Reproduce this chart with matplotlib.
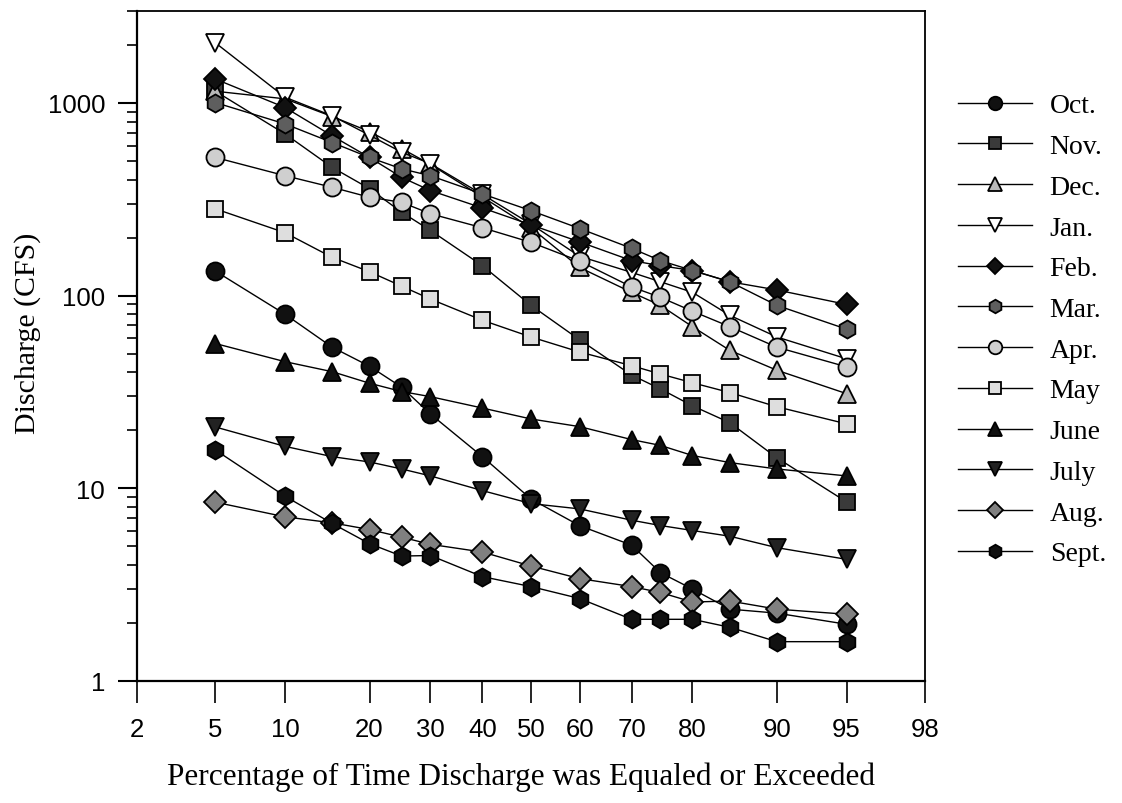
import math
import numpy as np
import matplotlib
matplotlib.use("Agg")
import matplotlib.pyplot as plt
from matplotlib.ticker import FixedLocator, LogLocator, NullFormatter, FixedFormatter

# percent of time exceeded (x) and monthly discharge in CFS (y)
PCT = [5, 10, 15, 20, 25, 30, 40, 50, 60, 70, 75, 80, 85, 90, 95]

OCT = [134, 80, 54, 43, 33.5, 24.3, 14.6, 8.8, 6.4, 5.07, 3.65, 3.0, 2.36, 2.25, 1.97]
NOV = [1150, 690, 463, 359, 271, 218, 143, 89, 59, 38.7, 32.8, 26.8, 21.9, 14.4, 8.5]
DEC = [1150, 1050, 850, 710, 580, 480, 325, 225, 140, 104, 89, 69, 52, 41, 31]
JAN = [2050, 1070, 857, 680, 555, 484, 335, 235, 160, 132, 118, 104, 79, 61, 47]
FEB = [1330, 946, 675, 521, 411, 351, 285, 233, 190, 152, 143, 135, 118, 107, 90]
MAR = [1004, 778, 623, 521, 455, 419, 337, 276, 223, 176, 152, 135, 118, 89, 67]
APR = [521, 419, 365, 324, 305, 266, 225, 189, 151, 111, 98, 83, 69, 54, 42.7]
MAY = [282, 212, 158, 133, 112, 96, 74.5, 61, 51, 43.3, 39.2, 35.3, 31.4, 26.5, 21.6]
JUNE = [56.4, 45.4, 40.3, 35.1, 31.8, 29.9, 26.1, 22.9, 20.9, 17.9, 16.7, 14.8, 13.6, 12.6, 11.6]
JULY = [20.8, 16.5, 14.6, 13.7, 12.6, 11.6, 9.73, 8.33, 7.82, 6.83, 6.41, 6.04, 5.64, 4.92, 4.28]
AUG = [8.47, 7.11, 6.62, 6.11, 5.58, 5.12, 4.67, 3.95, 3.40, 3.09, 2.88, 2.57, 2.60, 2.36, 2.22]
SEPT = [15.8, 9.09, 6.57, 5.16, 4.45, 4.48, 3.48, 3.09, 2.68, 2.09, 2.09, 2.09, 1.90, 1.60, 1.60]

MONTHS = ['Oct.', 'Nov.', 'Dec.', 'Jan.', 'Feb.', 'Mar.', 'Apr.', 'May', 'June', 'July', 'Aug.', 'Sept.']
SERIES = [OCT, NOV, DEC, JAN, FEB, MAR, APR, MAY, JUNE, JULY, AUG, SEPT]

X_TICKS = [2, 5, 10, 20, 30, 40, 50, 60, 70, 80, 90, 95, 98]
Y_TICKS = [1, 10, 100, 1000]

# marker, face colour per month
STYLES = [
    ('o', '#111111'),
    ('s', '#3a3a3a'),
    ('^', '#b8b8b8'),
    ('v', '#ffffff'),
    ('D', '#111111'),
    ('h', '#5e5e5e'),
    ('o', '#cfcfcf'),
    ('s', '#dedede'),
    ('^', '#111111'),
    ('v', '#222222'),
    ('D', '#808080'),
    ('h', '#111111'),
]


# normal probability scale (percent <-> z)
def _ppf(p):
    # Acklam's rational approximation of the inverse normal cdf
    a = [-3.969683028665376e+01, 2.209460984245205e+02, -2.759285104469687e+02,
         1.383577518672690e+02, -3.066479806614716e+01, 2.506628277459239e+00]
    b = [-5.447609879822406e+01, 1.615858368580409e+02, -1.556989798598866e+02,
         6.680131188771972e+01, -1.328068155288572e+01]
    c = [-7.784894002430293e-03, -3.223964580411365e-01, -2.400758277161838e+00,
         -2.549732539343734e+00, 4.374664141464968e+00, 2.938163982698783e+00]
    d = [7.784695709041462e-03, 3.224671290700398e-01, 2.445134137142996e+00,
         3.754408661907416e+00]
    plow = 0.02425
    if p < plow:
        q = math.sqrt(-2 * math.log(p))
        return (((((c[0]*q + c[1])*q + c[2])*q + c[3])*q + c[4])*q + c[5]) / \
               ((((d[0]*q + d[1])*q + d[2])*q + d[3])*q + 1)
    if p > 1 - plow:
        q = math.sqrt(-2 * math.log(1 - p))
        return -(((((c[0]*q + c[1])*q + c[2])*q + c[3])*q + c[4])*q + c[5]) / \
                ((((d[0]*q + d[1])*q + d[2])*q + d[3])*q + 1)
    q = p - 0.5
    r = q * q
    return (((((a[0]*r + a[1])*r + a[2])*r + a[3])*r + a[4])*r + a[5]) * q / \
           (((((b[0]*r + b[1])*r + b[2])*r + b[3])*r + b[4])*r + 1)


_ppf_v = np.vectorize(_ppf, otypes=[float])
_erf_v = np.vectorize(math.erf, otypes=[float])


def forward(pct):
    pct = np.clip(np.asarray(pct, dtype=float), 1e-6, 100 - 1e-6)
    return _ppf_v(pct / 100.0)


def inverse(z):
    z = np.asarray(z, dtype=float)
    return 50.0 * (1 + _erf_v(z / math.sqrt(2)))


fig = plt.figure(figsize=(11.22, 8.04), dpi=100)
ax = fig.add_axes([137 / 1122, 1 - 682 / 804, (925 - 137) / 1122, (682 - 12) / 804])

for vals, label, (mk, fc) in zip(SERIES, MONTHS, STYLES):
    ms = 13 if mk in ('o', 'h', '^', 'v') else 12
    if mk == 'D':
        ms = 11
    ax.plot(PCT, vals, color='black', lw=1.0, marker=mk, markersize=ms,
            markerfacecolor=fc, markeredgecolor='black', markeredgewidth=1.3,
            label=label)

ax.set_xscale('function', functions=(forward, inverse))
ax.set_yscale('log')
ax.set_xlim(2, 98)
ax.set_ylim(1, 3000)

ax.xaxis.set_major_locator(FixedLocator(X_TICKS))
ax.xaxis.set_major_formatter(FixedFormatter([str(t) for t in X_TICKS]))
ax.xaxis.set_minor_locator(FixedLocator([]))
ax.yaxis.set_major_locator(FixedLocator(Y_TICKS))
ax.yaxis.set_major_formatter(FixedFormatter([str(t) for t in Y_TICKS]))
ax.yaxis.set_minor_locator(LogLocator(base=10, subs=np.arange(2, 10)))
ax.yaxis.set_minor_formatter(NullFormatter())

ax.tick_params(axis='x', which='major', direction='out', length=16, width=1.2,
               pad=10, labelsize=18.5)
ax.tick_params(axis='y', which='major', direction='out', length=14, width=1.5,
               pad=9, labelsize=18.5)
ax.tick_params(axis='y', which='minor', direction='out', length=7, width=1.2)
for lab in ax.get_xticklabels() + ax.get_yticklabels():
    lab.set_family('Liberation Sans')

for side in ['left', 'bottom']:
    ax.spines[side].set_linewidth(1.6)
for side in ['top', 'right']:
    ax.spines[side].set_linewidth(1.3)

fig.text(28 / 1122, 1 - 333 / 804, 'Discharge (CFS)', rotation=90, ha='center',
         va='center', fontsize=21.5, family='Liberation Serif')
fig.text(521 / 1122, 1 - 777 / 804, 'Percentage of Time Discharge was Equaled or Exceeded',
         ha='center', va='center', fontsize=22.5, family='Liberation Serif')

handles, labels = ax.get_legend_handles_labels()
leg = fig.legend(handles, labels, loc='upper left', bbox_to_anchor=(958 / 1122, 1 - 94 / 804),
                 frameon=False, borderpad=0, borderaxespad=0, handlelength=2.65,
                 handletextpad=0.65, labelspacing=0.55, markerscale=0.75,
                 prop={'family': 'Liberation Serif', 'size': 20})

fig.savefig('out.png', dpi=100)
